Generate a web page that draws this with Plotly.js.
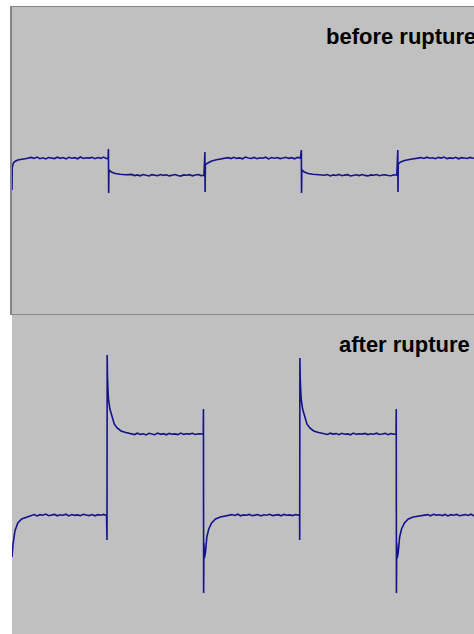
<!DOCTYPE html>
<html>
<head>
<meta charset="utf-8">
<script src="https://cdn.plot.ly/plotly-3.0.1.min.js"></script>
<style>
html, body { margin: 0; padding: 0; overflow: hidden; background: #ffffff; }
#chart { width: 490px; height: 634px; }
</style>
</head>
<body>
<div id="chart"></div>
<script>
// Panel titles
const panelTitles = ["before rupture", "after rupture"];

// Time (ms) and current (a.u.), before rupture
const beforeT = [
  0, 0.03, 0.15, 0.3, 0.6, 1.0, 1.5,
  2.0, 2.3, 2.6, 2.9, 3.2, 3.5, 3.8, 4.1, 4.4, 4.7, 5.0, 5.3, 5.6, 5.9, 6.2, 6.5, 6.8, 7.1, 7.4, 7.7, 8.0, 8.3, 8.6, 8.9, 9.2, 9.5, 9.8, 9.97,
  10.0, 10.02, 10.05, 10.3, 10.7, 11.2, 11.8,
  12.4, 12.7, 13.0, 13.3, 13.6, 13.9, 14.2, 14.5, 14.8, 15.1, 15.4, 15.7, 16.0, 16.3, 16.6, 16.9, 17.2, 17.5, 17.8, 18.1, 18.4, 18.7, 19.0, 19.3, 19.6, 19.9,
  20.0, 20.02, 20.05, 20.3, 20.7, 21.2, 21.8,
  22.4, 22.7, 23.0, 23.3, 23.6, 23.9, 24.2, 24.5, 24.8, 25.1, 25.4, 25.7, 26.0, 26.3, 26.6, 26.9, 27.2, 27.5, 27.8, 28.1, 28.4, 28.7, 29.0, 29.3, 29.6, 29.9,
  30.0, 30.02, 30.05, 30.3, 30.7, 31.2, 31.8,
  32.4, 32.7, 33.0, 33.3, 33.6, 33.9, 34.2, 34.5, 34.8, 35.1, 35.4, 35.7, 36.0, 36.3, 36.6, 36.9, 37.2, 37.5, 37.8, 38.1, 38.4, 38.7, 39.0, 39.3, 39.6, 39.9,
  40.0, 40.02, 40.05, 40.3, 40.7, 41.2, 41.8,
  42.4, 42.7, 43.0, 43.3, 43.6, 43.9, 44.2, 44.5, 44.8, 45.1, 45.4, 45.7, 46.0, 46.3, 46.6, 46.9, 47.2, 47.5, 47.8, 48.1
];
const beforeI = [
  -24, -1, 3, 4.5, 6, 7, 7.5,
  8.6, 7.6, 8.9, 7.3, 8.2, 7.0, 8.5, 8.1, 7.4, 8.8, 7.7, 8.4, 7.1, 8.7, 7.8, 8.3, 7.2, 9.0, 7.5, 8.2, 7.9, 8.6, 7.3, 8.4, 7.6, 8.9, 7.4, 8.1,
  17, -27, -4, -6, -7.5, -8.3, -8.8,
  -8.4, -9.6, -8.9, -9.8, -8.6, -9.3, -10.0, -8.7, -9.1, -9.7, -8.5, -9.4, -8.8, -9.9, -9.2, -8.6, -9.5, -10.1, -8.9, -9.3, -8.7, -9.8, -9.0, -8.5, -9.6, -9.2,
  14, -26, 1, 3, 5, 6.2, 7,
  8.3, 7.4, 8.7, 7.6, 8.1, 7.2, 8.9, 7.9, 7.5, 8.6, 7.3, 8.2, 7.7, 8.8, 7.1, 8.4, 7.8, 8.5, 7.4, 8.0, 8.7, 7.6, 8.3, 7.2, 8.6, 7.9,
  16, -27, -4, -6, -7.5, -8.3, -8.8,
  -9.3, -8.6, -9.9, -8.9, -9.5, -8.4, -9.7, -9.1, -8.7, -10.0, -9.2, -8.8, -9.6, -8.5, -9.4, -9.9, -8.9, -9.3, -8.6, -9.7, -9.0, -8.7, -9.5, -9.8, -8.8, -9.2,
  16, -26, 2, 4, 5.5, 6.5, 7.2,
  8.4, 7.5, 8.8, 7.7, 8.2, 7.3, 8.6, 7.9, 8.9, 7.4, 8.1, 7.6, 8.7, 7.2, 8.3, 8.0, 7.5, 8.6, 7.8, 8.2
];

// Time (ms) and current (a.u.), after rupture
const afterT = [
  0, 0.1, 0.3, 0.6, 1.0, 1.5,
  2.0, 2.3, 2.6, 2.9, 3.2, 3.5, 3.8, 4.1, 4.4, 4.7, 5.0, 5.3, 5.6, 5.9, 6.2, 6.5, 6.8, 7.1, 7.4, 7.7, 8.0, 8.3, 8.6, 8.9, 9.2, 9.5, 9.8,
  9.85, 9.87, 9.9, 9.95, 10.0, 10.15, 10.35, 10.6, 10.9, 11.3, 11.8,
  12.4, 12.7, 13.0, 13.3, 13.6, 13.9, 14.2, 14.5, 14.8, 15.1, 15.4, 15.7, 16.0, 16.3, 16.6, 16.9, 17.2, 17.5, 17.8, 18.1, 18.4, 18.7, 19.0, 19.3, 19.6, 19.83,
  19.85, 19.87, 19.9, 19.95, 20.05, 20.2, 20.4, 20.7, 21.1, 21.6, 22.2,
  22.8, 23.1, 23.4, 23.7, 24.0, 24.3, 24.6, 24.9, 25.2, 25.5, 25.8, 26.1, 26.4, 26.7, 27.0, 27.3, 27.6, 27.9, 28.2, 28.5, 28.8, 29.1, 29.4, 29.7, 29.82,
  29.83, 29.85, 29.88, 29.93, 29.98, 30.13, 30.33, 30.58, 30.88, 31.28, 31.78,
  32.4, 32.7, 33.0, 33.3, 33.6, 33.9, 34.2, 34.5, 34.8, 35.1, 35.4, 35.7, 36.0, 36.3, 36.6, 36.9, 37.2, 37.5, 37.8, 38.1, 38.4, 38.7, 39.0, 39.3, 39.6, 39.82,
  39.84, 39.86, 39.89, 39.94, 40.04, 40.19, 40.39, 40.69, 41.09, 41.59, 42.2,
  42.8, 43.1, 43.4, 43.7, 44.0, 44.3, 44.6, 44.9, 45.2, 45.5, 45.8, 46.1, 46.4, 46.7, 47.0, 47.3, 47.6, 47.9, 48.2
];
const afterI = [
  -82, -70, -56, -48, -44, -42,
  -40.6, -39.5, -40.9, -39.7, -40.2, -39.1, -40.7, -40.0, -39.4, -40.8, -39.8, -40.3, -39.2, -40.9, -39.6, -40.4, -39.9, -40.7, -39.3, -40.1, -40.6, -39.5, -40.8, -39.7, -40.2, -39.4, -40.5,
  -65, 120, 99, 86, 76, 66, 58, 51, 47, 44, 42.5,
  41.5, 40.4, 41.8, 40.6, 41.2, 40.1, 41.7, 40.9, 40.3, 41.9, 40.7, 41.3, 40.2, 41.6, 40.8, 41.1, 40.4, 41.9, 40.6, 41.3, 40.9, 41.7, 40.5, 41.2, 40.8, 41,
  66, -118, -68, -83, -78, -62, -54, -48, -44, -42, -41,
  -39.6, -40.5, -39.2, -40.8, -39.9, -40.3, -39.4, -40.7, -40.1, -39.5, -40.9, -39.8, -40.2, -39.3, -40.6, -40.0, -39.7, -40.8, -39.4, -40.3, -39.9, -40.6, -39.5, -40.1, -40,
  -65, 117, 98, 86, 76, 66, 58, 51, 47, 44, 42.5,
  41.2, 40.5, 41.8, 40.9, 41.4, 40.3, 41.7, 40.8, 41.1, 40.2, 41.9, 40.6, 41.3, 40.9, 41.6, 40.4, 41.2, 40.7, 41.8, 40.5, 41.0, 41.6, 40.3, 41.4, 40.8, 41,
  66, -118, -68, -83, -78, -62, -54, -48, -44, -42, -41,
  -40.4, -39.6, -40.8, -39.3, -40.1, -39.8, -40.6, -39.5, -40.9, -39.7, -40.2, -39.4, -40.7, -40.0, -39.6, -40.5, -39.2, -40.8, -39.9
];

const traceColor = '#13138a';
const panelBg = '#c0c0c0';
const frameColor = '#858585';

const data = [
  { x: beforeT, y: beforeI, xaxis: 'x', yaxis: 'y', type: 'scatter', mode: 'lines',
    line: { color: traceColor, width: 1.6 }, hoverinfo: 'skip' },
  { x: afterT, y: afterI, xaxis: 'x2', yaxis: 'y2', type: 'scatter', mode: 'lines',
    line: { color: traceColor, width: 1.6 }, hoverinfo: 'skip' }
];

const axisCommon = { showgrid: false, zeroline: false, showticklabels: false, ticks: '', fixedrange: true };

const layout = {
  width: 490, height: 634,
  margin: { l: 12, r: 0, t: 7, b: 0, pad: 0 },
  paper_bgcolor: '#ffffff',
  plot_bgcolor: panelBg,
  showlegend: false,
  xaxis: Object.assign({}, axisCommon, { domain: [0, 1], range: [0, 49.56], anchor: 'y',
    showline: true, mirror: true, linecolor: frameColor, linewidth: 1.5 }),
  yaxis: Object.assign({}, axisCommon, { domain: [0.5104, 1], range: [-148, 159], anchor: 'x',
    showline: true, mirror: false, linecolor: frameColor, linewidth: 2 }),
  xaxis2: Object.assign({}, axisCommon, { domain: [0, 1], range: [0, 49.56], anchor: 'y2', showline: false }),
  yaxis2: Object.assign({}, axisCommon, { domain: [0, 0.5088], range: [-159, 160], anchor: 'x2', showline: false }),
  annotations: [
    { text: '<b>' + panelTitles[0] + '</b>', xref: 'paper', yref: 'paper', x: 0.9745, y: 1, yshift: -29,
      xanchor: 'right', yanchor: 'middle', showarrow: false,
      font: { family: 'Liberation Sans, Arial, sans-serif', size: 22, color: '#000000' } },
    { text: '<b>' + panelTitles[1] + '</b>', xref: 'paper', yref: 'paper', x: 0.9627, y: 0.5088, yshift: -30,
      xanchor: 'right', yanchor: 'middle', showarrow: false,
      font: { family: 'Liberation Sans, Arial, sans-serif', size: 22, color: '#000000' } }
  ]
};

Plotly.newPlot('chart', data, layout, { displayModeBar: false, staticPlot: true });
</script>
</body>
</html>
